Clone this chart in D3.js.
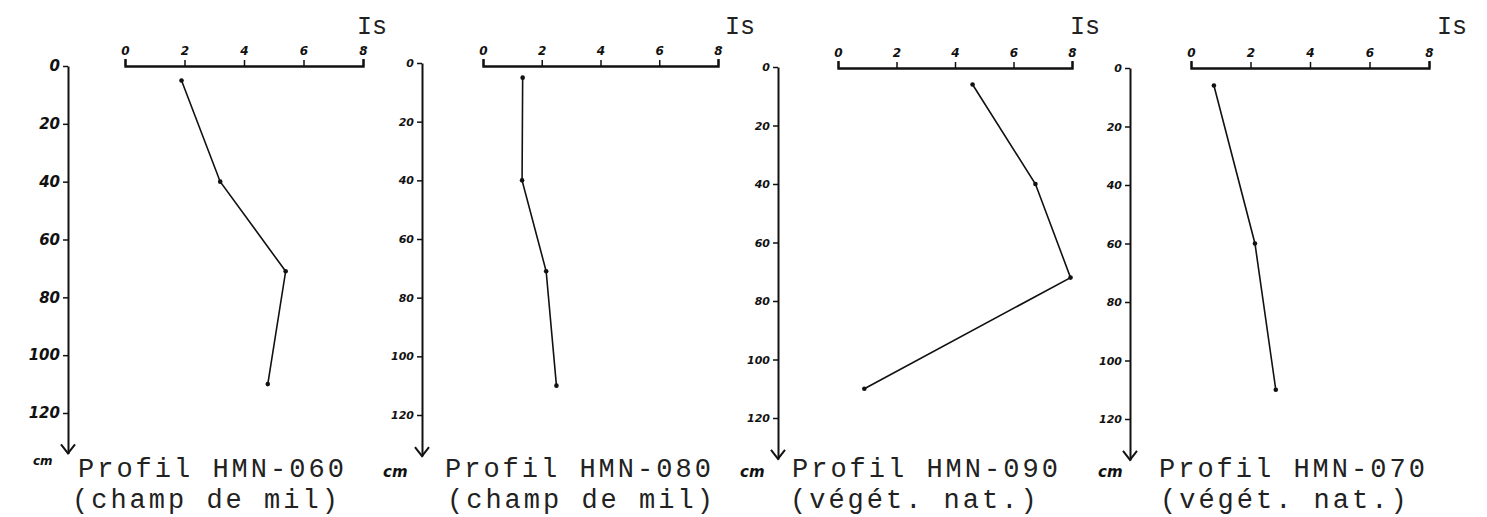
<!DOCTYPE html>
<html>
<head>
<meta charset="utf-8">
<script src="https://cdn.jsdelivr.net/npm/d3@7"></script>
<style>
  body { margin: 0; background: white; }
  .hand { font-family: "DejaVu Sans", sans-serif; font-style: italic; font-weight: bold; }
  .type { font-family: "Liberation Mono", monospace; }
</style>
</head>
<body>
<div id="plot_area"></div>
<script>

// profile names and land use
var profileNames = ["Profil HMN-060", "Profil HMN-080", "Profil HMN-090", "Profil HMN-070"]
var landUse = ["(champ de mil)", "(champ de mil)", "(végét. nat.)", "(végét. nat.)"]

// depth (cm) and Is values
var depth060 = [5, 40, 71, 110]
var is060 = [1.9, 3.2, 5.4, 4.8]
var depth080 = [5, 40, 71, 110]
var is080 = [1.35, 1.33, 2.15, 2.5]
var depth090 = [6, 40, 72, 110]
var is090 = [4.6, 6.75, 7.95, 0.9]
var depth070 = [6, 60, 110]
var is070 = [0.77, 2.15, 2.85]

var isTicks = [0, 2, 4, 6, 8]
var depthTicks = [0, 20, 40, 60, 80, 100, 120]
var axisLabel = "Is"
var unitLabel = "cm"

var series = [
  {depth: depth060, is: is060},
  {depth: depth080, is: is080},
  {depth: depth090, is: is090},
  {depth: depth070, is: is070}
]

// layout of each panel on the page
var axisX = [68, 422, 778, 1130]
var scaleX = [[125, 363], [483, 718], [838, 1072], [1191, 1429]]
var topY = [66, 66, 68, 68]
var depthY = [[66, 413], [63, 415], [67, 418], [68, 419]]
var tickFont = [15, 11, 11, 11]
var isLabelX = [357, 725, 1070, 1437]
var unitPos = [[33, 465, 12], [383, 477, 15], [740, 477, 15], [1098, 477, 15]]
var titleX = [[78, 72], [445, 447], [792, 790], [1159, 1160]]

var width = 1487, height = 517

var Svg = d3.select('#plot_area')
  .append("svg")
  .attr("width", width)
  .attr("height", height)

series.forEach(function(s, i) {
  var g = Svg.append("g")

  // Is scale along the top
  var x = d3.scaleLinear()
    .domain([0, 8])
    .range(scaleX[i])

  // depth scale going down, runs past 120 to the arrow
  var y0 = depthY[i][0], y120 = depthY[i][1]
  var y = d3.scaleLinear()
    .domain([0, 120])
    .range([y0, y120])
  var yEnd = 134

  var top = g.append("g")
    .attr("transform", "translate(0," + topY[i] + ")")
    .call(d3.axisTop(x).tickValues(isTicks).tickSize(6).tickSizeOuter(7).tickPadding(5))
  top.select(".domain").attr("stroke", "#111").attr("stroke-width", 2.4)
  top.selectAll(".tick line").attr("stroke", "#111").attr("stroke-width", 1.5)
  top.selectAll(".tick text")
    .attr("class", "hand")
    .attr("fill", "#111")
    .style("font-size", "12px")

  var left = g.append("g")
    .attr("transform", "translate(" + axisX[i] + ",0)")
    .call(d3.axisLeft(y.copy().domain([0, yEnd]).range([y0, y(yEnd)]))
      .tickValues(depthTicks).tickSize(5).tickSizeOuter(0).tickPadding(3))
  left.select(".domain").attr("stroke", "#111").attr("stroke-width", 2)
  left.selectAll(".tick line").attr("stroke", "#111").attr("stroke-width", 1.5)
  left.selectAll(".tick text")
    .attr("class", "hand")
    .attr("fill", "#111")
    .style("font-size", tickFont[i] + "px")

  // arrow head at the bottom of the depth axis
  var tip = y(yEnd)
  g.append("path")
    .attr("d", d3.line()([[axisX[i] - 7, tip - 9], [axisX[i], tip], [axisX[i] + 7, tip - 9]]))
    .attr("fill", "none")
    .attr("stroke", "#111")
    .attr("stroke-width", 2)

  // the profile line
  var pts = s.depth.map(function(d, k) { return [x(s.is[k]), y(d)] })
  g.append("path")
    .attr("d", d3.line()(pts))
    .attr("fill", "none")
    .attr("stroke", "#111")
    .attr("stroke-width", 1.6)

  g.selectAll("circle")
    .data(pts)
    .enter()
    .append("circle")
    .attr("cx", function(d) { return d[0] })
    .attr("cy", function(d) { return d[1] })
    .attr("r", 2.3)
    .attr("fill", "#111")

  // Is label
  g.append("text")
    .attr("class", "type")
    .attr("x", isLabelX[i])
    .attr("y", 34)
    .style("font-size", "25px")
    .attr("fill", "#222")
    .text(axisLabel)

  // cm label
  g.append("text")
    .attr("class", "hand")
    .attr("x", unitPos[i][0])
    .attr("y", unitPos[i][1])
    .style("font-size", unitPos[i][2] + "px")
    .attr("fill", "#111")
    .text(unitLabel)

  // two line title
  g.append("text")
    .attr("class", "type")
    .attr("x", titleX[i][0])
    .attr("y", 477)
    .style("font-size", "27px")
    .style("letter-spacing", "3px")
    .attr("fill", "#222")
    .text(profileNames[i])
  g.append("text")
    .attr("class", "type")
    .attr("x", titleX[i][1])
    .attr("y", 508)
    .style("font-size", "27px")
    .style("letter-spacing", "3px")
    .attr("fill", "#222")
    .text(landUse[i])
})

</script>
</body>
</html>
